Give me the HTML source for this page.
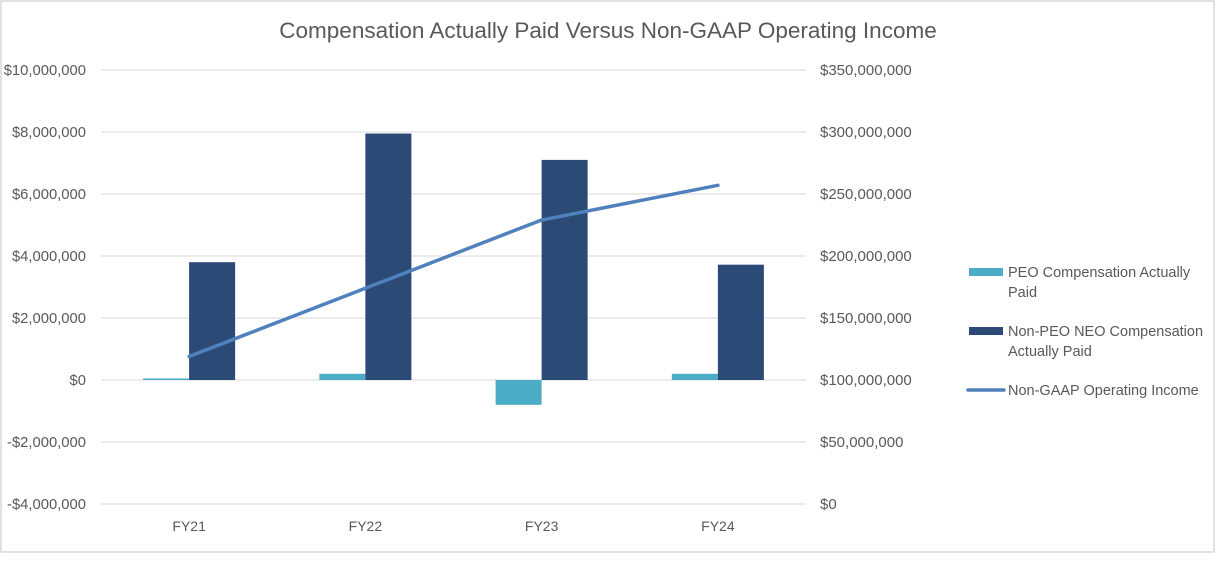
<!DOCTYPE html>
<html><head><meta charset="utf-8"><style>
body{margin:0;background:#fff;}
svg{display:block;font-family:"Liberation Sans",sans-serif;}
</style></head><body>
<svg id="chart" width="1222" height="564">
<rect x="1" y="1" width="1213" height="551" fill="#fff" stroke="#d9d9d9" stroke-width="1.5"/>
<text x="608" y="38" text-anchor="middle" font-size="22.5" fill="#595959">Compensation Actually Paid Versus Non-GAAP Operating Income</text>
<g id="grid"></g><g id="bars"></g><g id="line"></g><g id="axes"></g>
<g font-size="14.5" fill="#595959">
<rect x="969" y="268" width="34" height="8" fill="#4bacc6"/>
<text x="1008" y="277">PEO Compensation Actually</text>
<text x="1008" y="297">Paid</text>
<rect x="969" y="327" width="34" height="8" fill="#2b4a76"/>
<text x="1008" y="336">Non-PEO NEO Compensation</text>
<text x="1008" y="356">Actually Paid</text>
<line x1="968" y1="390" x2="1004" y2="390" stroke="#4f81bd" stroke-width="3.5" stroke-linecap="round"/>
<text x="1008" y="395">Non-GAAP Operating Income</text>
</g>
</svg>
<script>
const categories=["FY21","FY22","FY23","FY24"];
const peoValues=[50000,200000,-800000,200000];
const neoValues=[3800000,7950000,7100000,3720000];
const incomeValues=[119000000,174000000,229000000,257000000];
const leftTicks=[-4000000,-2000000,0,2000000,4000000,6000000,8000000,10000000];
const rightTicks=[0,50000000,100000000,150000000,200000000,250000000,300000000,350000000];
const NS="http://www.w3.org/2000/svg";
const X0=101,X1=806,YT=70,YB=504;
const yL=v=>YB-(v+4000000)/14000000*(YB-YT);
const yR=v=>YB-v/350000000*(YB-YT);
const band=(X1-X0)/categories.length;
const xC=i=>X0+band*(i+0.5);
const bw=46;
function mk(tag,attrs,parent){const e=document.createElementNS(NS,tag);for(const k in attrs)e.setAttribute(k,attrs[k]);document.getElementById(parent).appendChild(e);return e;}
const fmt=v=>(v<0?"-":"")+"$"+Math.abs(v).toLocaleString("en-US");
leftTicks.forEach((t,i)=>{
 const g=mk("line",{x1:X0,x2:X1,y1:yL(t),y2:yL(t),stroke:"#d9d9d9","stroke-width":1},"grid");
 
 
 const tx=mk("text",{x:86,y:yL(t)+5,"text-anchor":"end","font-size":14.8,fill:"#595959"},"axes");
 tx.textContent=fmt(t);
 
 
});
rightTicks.forEach(t=>{
 const tx=mk("text",{x:820,y:yR(t)+5,"font-size":15,fill:"#595959"},"axes");
 tx.textContent=fmt(t);
 
 
});
categories.forEach((c,i)=>{
 const tx=mk("text",{x:xC(i),y:531,"text-anchor":"middle","font-size":14,fill:"#595959"},"axes");
 tx.textContent=c;
 
 
 const p=peoValues[i],y0=yL(0),yp=yL(p);
 const b1=mk("rect",{x:xC(i)-bw,y:Math.min(y0,yp),width:bw,height:Math.max(Math.abs(y0-yp),1),fill:"#4bacc6"},"bars");
 
 
 const n=neoValues[i],yn=yL(n);
 const b2=mk("rect",{x:xC(i),y:Math.min(y0,yn),width:bw,height:Math.abs(y0-yn),fill:"#2b4a76"},"bars");
 
 
});
const pts=incomeValues.map((v,i)=>xC(i)+","+yR(v)).join(" ");
const pl=mk("polyline",{points:pts,fill:"none",stroke:"#4f81bd","stroke-width":3.5,"stroke-linecap":"round","stroke-linejoin":"round"},"line");


</script>
</body></html>
